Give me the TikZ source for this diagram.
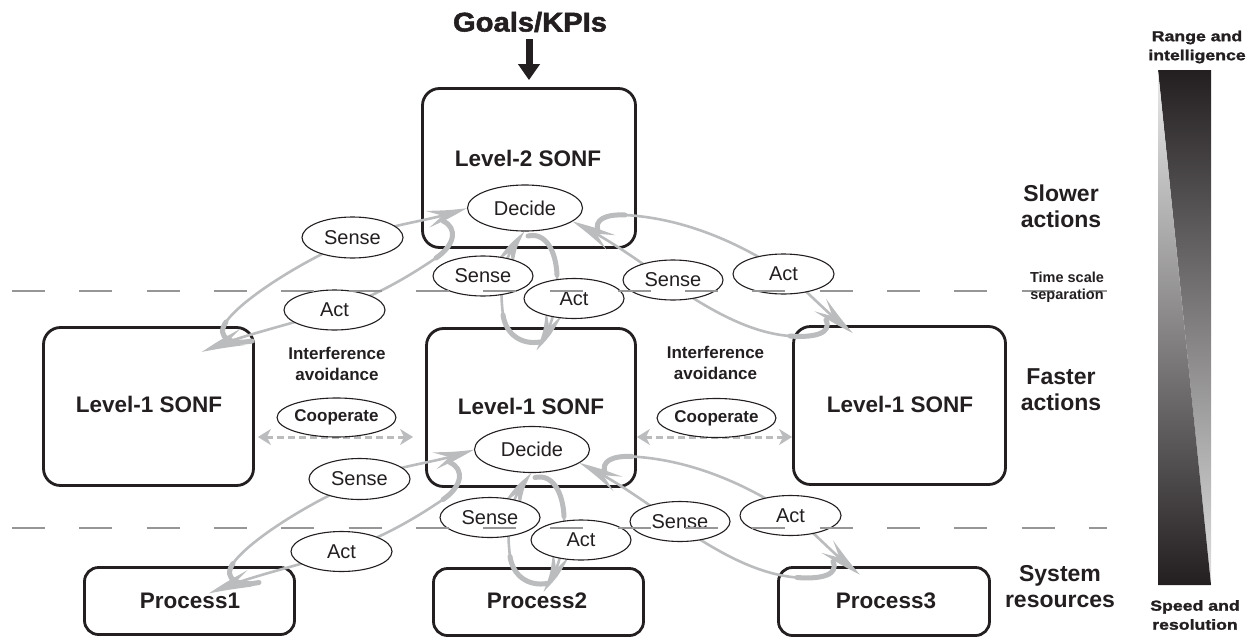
\documentclass[tikz,border=0pt]{standalone}
\usepackage{fontspec}
\setmainfont{Liberation Sans}
\newfontfamily\blackfont{Liberation Sans}[BoldFeatures={FakeStretch=1.22,FakeBold=1.6}]
\newfontfamily\goalfont{Liberation Sans}[BoldFeatures={FakeStretch=1.08,FakeBold=2}]
\usetikzlibrary{shapes.geometric,arrows.meta,bending}
\definecolor{ink}{RGB}{35,31,32}
\definecolor{swgray}{RGB}{186,188,190}
\definecolor{dashgray}{RGB}{150,150,152}

\newcommand\loopgroup[1]{%
  \node[lbl, minimum width=115pt, minimum height=46pt] (#1D) at (525,208) {Decide};
  % tails / heads
  \coordinate (#1s1) at (252,341);
  \coordinate (#1a1) at (443,221);
  \coordinate (#1e1) at (202,352);
  \coordinate (#1s2) at (540,342);
  \coordinate (#1a2) at (528,236);
  \coordinate (#1e2) at (536,350);
  \coordinate (#1s3) at (826,320);
  \coordinate (#1a3) at (598,231);
  \coordinate (#1e3) at (853,333);
  % thick tail hooks
  \draw[swtail] (#1s1) .. controls (232,345) and (215,338) .. (226,322);
  \draw[swtail] (#1a1) .. controls (458,228) and (455,245) .. (436,258);
  \draw[swtail] (#1s2) .. controls (522,345) and (506,335) .. (503,315);
  \draw[swtail] (#1a2) .. controls (545,232) and (556,250) .. (557,275);
  \draw[swtail] (#1s3) .. controls (832,333) and (815,338) .. (790,336);
  \draw[swtail] (#1a3) .. controls (594,220) and (605,214) .. (625,215);
  % left loop
  \draw[sw] (#1s1) .. controls (232,345) and (215,338) .. (226,322)
     .. controls (241,300) and (300,262) .. (352,240)
     .. controls (395,222) and (430,222) .. (#1D.west);
  \draw[sw] (#1a1) .. controls (458,228) and (455,245) .. (436,258)
     .. controls (415,272) and (380,295) .. (334,310)
     .. controls (290,325) and (240,335) .. (#1e1);
  % middle loop
  \draw[sw] (#1s2) .. controls (522,345) and (506,335) .. (503,315)
     .. controls (500,290) and (499,258) .. (#1D.south);
  \draw[sw] (#1a2) .. controls (545,232) and (556,250) .. (557,275)
     .. controls (558,300) and (553,330) .. (#1e2);
  % right loop
  \draw[sw] (#1s3) .. controls (832,333) and (815,338) .. (790,336)
     .. controls (750,333) and (710,310) .. (673,285)
     .. controls (640,262) and (605,236) .. (#1D.-16);
  \draw[sw] (#1a3) .. controls (594,220) and (605,214) .. (625,215)
     .. controls (680,218) and (735,240) .. (783,272)
     .. controls (805,288) and (828,315) .. (#1e3);
  % labels
  \node[lbl, minimum width=101pt, minimum height=41pt] (#1SL) at (352.5,237.5) {Sense};
  \node[lbl, minimum width=101pt, minimum height=40pt] (#1AL) at (334.5,310) {Act};
  \node[lbl, minimum width=100pt, minimum height=40pt] (#1SM) at (483,276) {Sense};
  \node[lbl, minimum width=100pt, minimum height=40pt] (#1AM) at (574,298.5) {Act};
  \node[lbl, minimum width=100pt, minimum height=40pt] (#1SR) at (673,280) {Sense};
  \node[lbl, minimum width=101pt, minimum height=40pt] (#1AR) at (783.5,274) {Act};
}

\begin{document}
\begin{tikzpicture}[x=1pt,y=-1pt,
  box/.style={draw=ink, line width=2.8pt, rounded corners=17pt, inner sep=0pt},
  btxt/.style={font=\bfseries\fontsize{22.5}{26}\selectfont, text=ink},
  lbl/.style={ellipse, draw=ink, line width=1.1pt, fill=white, inner sep=0pt,
     font=\fontsize{20}{22}\selectfont, text=ink},
  sw/.style={draw=swgray, line width=2.6pt, line cap=round,
     -{Stealth[length=42pt,width=17pt,inset=16pt,bend]}},
  swtail/.style={draw=swgray, line width=5pt, line cap=round},
  side/.style={font=\bfseries\fontsize{23}{26}\selectfont, text=ink, align=center},
  small/.style={font=\bfseries\fontsize{17}{21}\selectfont, text=ink, align=center},
  coopst/.style={ellipse, draw=ink, line width=1.1pt, fill=white, inner sep=0pt,
     minimum width=101pt, minimum height=39pt, font=\bfseries\fontsize{17}{19}\selectfont, text=ink},
  coopar/.style={draw=swgray, line width=3pt, dash pattern=on 7pt off 4pt,
     {Stealth[length=13pt,width=16pt,inset=4pt]}-{Stealth[length=13pt,width=16pt,inset=4pt]}},
  tsep/.style={draw=dashgray, line width=1.5pt, dash pattern=on 33pt off 34.3pt}
]
\useasboundingbox (0,0) rectangle (1250,640);

% Goals
\node[font=\goalfont\bfseries\fontsize{27}{30}\selectfont, text=ink] (goals) at (530,22) {Goals/KPIs};
\coordinate (gA) at (529,39);

% boxes
\node[box, minimum width=213pt, minimum height=159pt] (L2) at (529,168) {};
\node[box, minimum width=210pt, minimum height=158pt] (L1a) at (148.5,406.5) {};
\node[box, minimum width=209pt, minimum height=158pt] (L1b) at (531,407.5) {};
\node[box, minimum width=212pt, minimum height=158pt] (L1c) at (899.5,405.5) {};
\node[box, rounded corners=14pt, minimum width=210pt, minimum height=67pt] (P1) at (189.5,601) {};
\node[box, rounded corners=14pt, minimum width=210pt, minimum height=67pt] (P2) at (538.5,602) {};
\node[box, rounded corners=14pt, minimum width=211pt, minimum height=68pt] (P3) at (884,601.5) {};

\draw[ink, line width=7pt, shorten >=7pt, -{Triangle[length=16pt,width=21pt]}] (gA) -- (gA |- L2.north);

\node[btxt] (tL2) at (528,158) {Level-2 SONF};
\node[btxt] (tL1a) at (149,404) {Level-1 SONF};
\node[btxt] (tL1b) at (531,406) {Level-1 SONF};
\node[btxt] (tL1c) at (900,404) {Level-1 SONF};
\node[btxt] (tP1) at (190,601) {Process1};
\node[btxt] (tP2) at (537,601) {Process2};
\node[btxt] (tP3) at (886,601) {Process3};

% interference avoidance
\node[small] (int1) at (337,363.5) {Interference\\avoidance};
\node[small] (int2) at (715.5,362.5) {Interference\\avoidance};
\draw[coopar, shorten <=3pt, shorten >=12pt] (L1a.east |- 0,437) coordinate (ca1) -- (L1b.west |- ca1);
\draw[coopar] (L1b.east |- 0,437) coordinate (ca2) -- (L1c.west |- ca2);
\node[coopst] (C1) at (336.5,417.5) {Cooperate};
\node[coopst] (C2) at (716.5,418) {Cooperate};

% sense / decide / act loops
\begin{scope}
  \loopgroup{t}
\end{scope}
\begin{scope}[shift={(7,241.5)}]
  \loopgroup{b}
\end{scope}

% time scale separation lines
\coordinate (d1a) at (12,291);
\coordinate (d1b) at (1107,291);
\coordinate (d2a) at (12,528);
\coordinate (d2b) at (1107,528);
\draw[tsep] (d1a) -- (d1b);
\draw[tsep] (d2a) -- (d2b);

% right column
\node[side] (slow) at (1061,206) {Slower\\actions};
\node[font=\bfseries\fontsize{14.5}{17.5}\selectfont, text=ink, align=center] (tss) at (1067,287) {Time scale\\separation};
\node[side] (fast) at (1061,390) {Faster\\actions};
\node[side] (sys) at (1060,587) {System\\resources};

% gradient bar
\shade[top color=ink, bottom color=black!12] (1158,70) -- (1211,70) -- (1211,585) -- cycle;
\shade[top color=black!8, bottom color=ink] (1158,70) -- (1211,585) -- (1158,585) -- cycle;
\node[font=\blackfont\bfseries\fontsize{14.5}{19}\selectfont, text=ink, align=center] (range) at (1197,47) {Range and\\intelligence};
\node[font=\blackfont\bfseries\fontsize{14.5}{19}\selectfont, text=ink, align=center] (speed) at (1195,615) {Speed and\\resolution};
\end{tikzpicture}
\end{document}
